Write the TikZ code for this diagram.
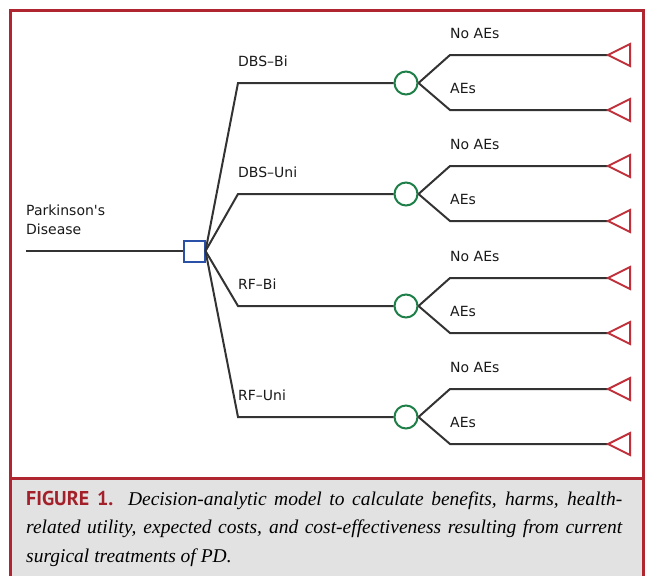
\documentclass[tikz,border=0pt]{standalone}
\usepackage{fontspec}
\setmainfont{Liberation Serif}
\newfontfamily\lblfont{DejaVu Sans}[Ligatures=TeXOff]
\newfontfamily\capsans{PT Sans}
\usetikzlibrary{shapes.geometric}
\definecolor{framered}{HTML}{B02630}
\definecolor{figred}{HTML}{A3202B}
\definecolor{capgray}{HTML}{E2E2E2}
\definecolor{treegray}{HTML}{333333}
\definecolor{decblue}{HTML}{2A50A8}
\definecolor{chgreen}{HTML}{1F7F48}
\definecolor{termred}{HTML}{C0303A}
\tikzset{
  frameline/.style={draw=framered, line width=3},
  branch/.style={draw=treegray, line width=2},
  decbox/.style={rectangle, draw=decblue, line width=2, fill=white, minimum size=21, inner sep=0},
  chancenode/.style={circle, draw=chgreen, line width=2, fill=white, minimum size=23, inner sep=0},
  termtri/.style={draw=termred, line width=2, line join=miter},
  lbl/.style={font=\lblfont\fontsize{14}{17}\selectfont, text=black!90, inner sep=0, anchor=base west},
}
\begin{document}
\begin{tikzpicture}[x=1pt,y=-1pt]
\useasboundingbox (0,0) rectangle (646,576);
\fill[capgray] (10,478) rectangle (643,576);
\draw[frameline] (10,578) -- (10,10) -- (643,10) -- (643,578);
\draw[frameline] (10,478) -- (643,478);
% root
\coordinate (s) at (26,251);
\node[decbox] (d) at (194,251) {};
\draw[branch] (s) -- (d.west);
\node[lbl] (pd1) at (26,215) {Parkinson's};
\node[lbl] (pd2) at (26,234) {Disease};
\foreach \c/\lab/\n in {83/DBS–Bi/1, 194/DBS–Uni/2, 306/RF–Bi/3, 417/RF–Uni/4}{
  \coordinate (e\n) at (238,\c);
  \node[chancenode] (c\n) at (406,\c) {};
  \draw[branch] (d.east) -- (e\n) -- (c\n.west);
  \node[lbl] (l\n) at (238,\c-17) {\lab};
  \coordinate (u\n) at (450,\c-28);
  \coordinate (w\n) at (450,\c+27);
  \coordinate (tu\n) at (608,\c-28);
  \coordinate (tw\n) at (608,\c+27);
  \draw[branch] (c\n.east) -- (u\n) -- (tu\n);
  \draw[branch] (c\n.east) -- (w\n) -- (tw\n);
  \draw[termtri] (tu\n) -- ++(22,-11) -- ++(0,22) -- cycle;
  \draw[termtri] (tw\n) -- ++(22,-11) -- ++(0,22) -- cycle;
  \node[lbl] (na\n) at (450,\c-45) {No AEs};
  \node[lbl] (ae\n) at (450,\c+10) {AEs};
}
\node[anchor=north west, text width=596pt, align=justify, inner sep=0,
  font=\fontsize{19.5}{28.5}\selectfont\itshape] (cap) at (26,491)
  {{\capsans\fontsize{20}{28.5}\selectfont\bfseries\upshape\color{figred}FIGURE 1.} Decision-analytic model to calculate benefits, harms, health-\linebreak related utility, expected costs, and cost-effectiveness resulting from current\linebreak surgical treatments of PD.};
\end{tikzpicture}
\end{document}
